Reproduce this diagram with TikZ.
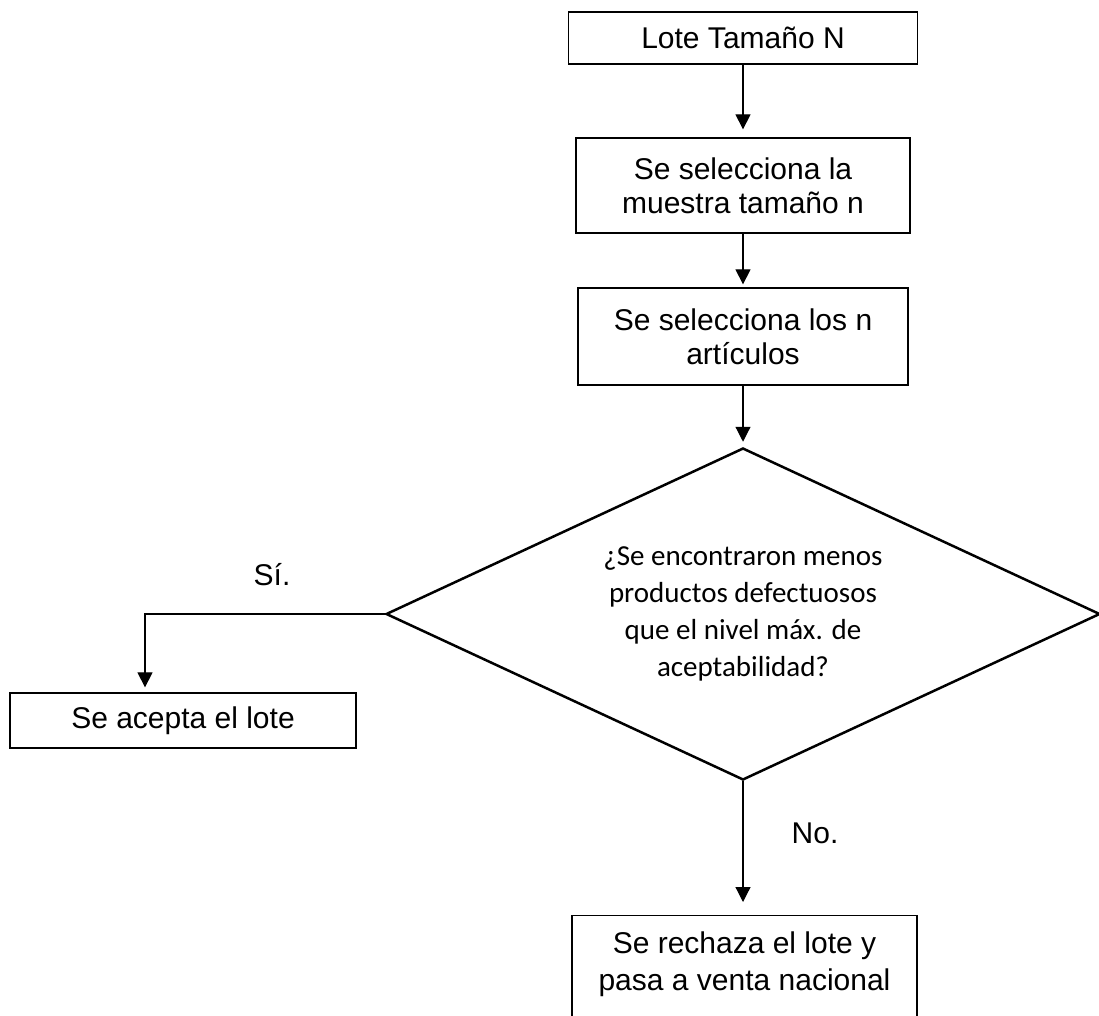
\documentclass[tikz,border=0pt]{standalone}
\usepackage{fontspec}
\setmainfont{Liberation Sans}
\newfontfamily\calib{Carlito}
\usetikzlibrary{arrows.meta,shapes.geometric}
\begin{document}
\begin{tikzpicture}[x=1bp,y=-1bp,
  box/.style={draw, line width=1.3bp, inner sep=0, align=center,
    font=\fontsize{30bp}{34bp}\selectfont},
  conn/.style={line width=1.2bp, -{Triangle[width=15bp,length=15bp]}},
  lbl/.style={font=\fontsize{30bp}{34bp}\selectfont, inner sep=0}]
\useasboundingbox (0,0) rectangle (1099,1016);
\clip (0,0) rectangle (1099,1016);

\node[box, minimum width=349bp, minimum height=52bp] (b1) at (743,38) {Lote Tamaño N};
\node[box, minimum width=334bp, minimum height=95bp] (b2) at (743,185.5) {Se selecciona la\\muestra tamaño n};
\node[box, minimum width=330bp, minimum height=97bp] (b3) at (743,336.5) {Se selecciona los n\\artículos};
\node[diamond, draw, line width=2.5bp, minimum width=714bp, minimum height=332bp,
  aspect=2.15, inner sep=0, align=center,
  font=\calib\fontsize{29bp}{37bp}\selectfont] (dia) at (743,614)
  {¿Se encontraron menos\\productos defectuosos\\que el nivel máx. de\\aceptabilidad?};
\node[box, minimum width=346bp, minimum height=55bp] (acc) at (183,720.5) {Se acepta el lote};
\node[box, anchor=north, minimum width=345bp, minimum height=150bp] (rej) at (744.5,915) {};
\node[lbl, align=center, font=\fontsize{30bp}{37bp}\selectfont, anchor=north] (rejt) at ([yshift=-17bp]rej.north) {Se rechaza el lote y\\pasa a venta nacional};

\draw[conn, shorten >=8bp] (b1) -- (b2);
\draw[conn, shorten >=3bp] (b2) -- (b3);
\draw[conn, shorten >=5bp] (b3) -- (dia.north);
\draw[conn, shorten >=5bp] (dia.west) -| ([xshift=-38bp]acc.north);
\draw[conn, shorten >=13bp] (dia.south) -- (rej.north -| dia.south);

\node[lbl] (si) at (272,575) {Sí.};
\node[lbl] (no) at (815,833) {No.};
\end{tikzpicture}
\end{document}
